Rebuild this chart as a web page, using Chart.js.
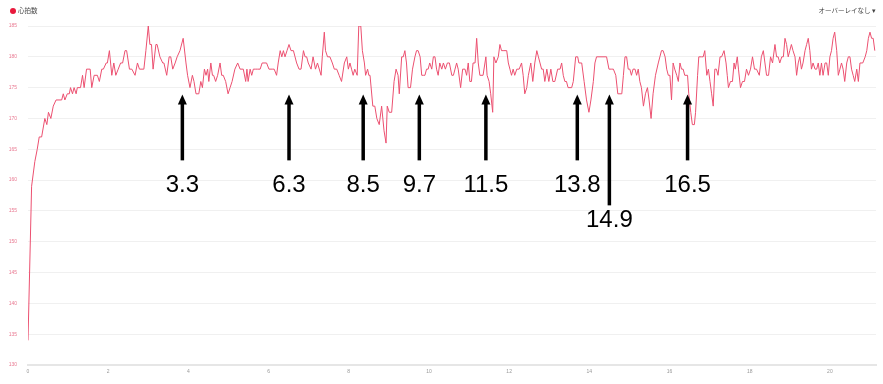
<!DOCTYPE html>
<html>
<head>
<meta charset="utf-8">
<script src="https://cdn.jsdelivr.net/npm/chart.js@4/dist/chart.umd.min.js"></script>
<style>
html,body{margin:0;padding:0;background:#fff;}
canvas{display:block;}
</style>
</head>
<body>
<canvas id="c" width="883" height="384"></canvas>
<script>
// distance (km)
const distanceKm = [
0.00,0.09,0.17,0.23,0.28,0.34,0.42,0.47,0.51,0.57,
0.63,0.70,0.84,0.88,0.92,0.98,1.03,1.06,1.11,1.15,
1.20,1.23,1.31,1.36,1.40,1.46,1.55,1.59,1.65,1.73,
1.78,1.84,1.88,1.95,1.98,2.03,2.09,2.14,2.19,2.25,
2.31,2.36,2.42,2.46,2.53,2.59,2.67,2.73,2.78,2.89,
2.94,3.00,3.04,3.08,3.12,3.19,3.22,3.29,3.36,3.39,
3.46,3.52,3.56,3.61,3.67,3.72,3.79,3.87,3.94,3.98,
4.04,4.10,4.14,4.19,4.26,4.31,4.35,4.40,4.44,4.48,
4.51,4.56,4.60,4.63,4.68,4.73,4.79,4.83,4.87,4.93,
4.99,5.04,5.09,5.16,5.23,5.29,5.37,5.43,5.46,5.49,
5.54,5.58,5.62,5.68,5.73,5.79,5.84,5.95,6.01,6.09,
6.14,6.20,6.24,6.29,6.33,6.37,6.41,6.46,6.51,6.56,
6.62,6.66,6.70,6.76,6.81,6.87,6.91,6.95,6.99,7.06,
7.11,7.17,7.22,7.31,7.34,7.39,7.42,7.47,7.53,7.59,
7.64,7.70,7.76,7.82,7.89,7.95,7.99,8.03,8.07,8.11,
8.15,8.21,8.25,8.30,8.34,8.39,8.42,8.47,8.50,8.53,
8.60,8.65,8.70,8.76,8.82,8.88,8.93,8.96,9.01,9.07,
9.13,9.18,9.23,9.26,9.32,9.36,9.40,9.44,9.48,9.54,
9.59,9.65,9.69,9.73,9.78,9.82,9.86,9.90,9.94,9.98,
10.02,10.07,10.11,10.15,10.19,10.23,10.27,10.32,10.36,10.41,
10.46,10.51,10.57,10.61,10.65,10.69,10.73,10.79,10.84,10.90,
10.94,10.98,11.02,11.06,11.10,11.15,11.19,11.23,11.27,11.35,
11.42,11.45,11.50,11.54,11.59,11.62,11.67,11.73,11.77,11.81,
11.85,11.94,11.98,12.02,12.06,12.10,12.14,12.19,12.25,12.31,
12.35,12.39,12.44,12.48,12.54,12.59,12.64,12.69,12.73,12.77,
12.81,12.85,12.89,12.94,12.99,13.04,13.09,13.14,13.21,13.27,
13.31,13.35,13.39,13.43,13.47,13.56,13.60,13.66,13.71,13.74,
13.81,13.87,13.93,13.99,14.04,14.10,14.14,14.18,14.43,14.49,
14.56,14.60,14.66,14.71,14.81,14.85,14.89,14.93,14.97,15.01,
15.05,15.09,15.14,15.18,15.22,15.26,15.30,15.35,15.40,15.45,
15.49,15.54,15.59,15.65,15.72,15.76,15.80,15.84,15.89,15.93,
15.97,16.01,16.05,16.09,16.13,16.18,16.22,16.26,16.30,16.34,
16.38,16.45,16.48,16.53,16.57,16.62,16.65,16.70,16.73,16.80,
16.84,16.88,16.93,16.97,17.01,17.05,17.09,17.13,17.17,17.21,
17.26,17.30,17.36,17.41,17.44,17.47,17.52,17.57,17.61,17.64,
17.69,17.72,17.77,17.82,17.87,17.92,17.97,18.02,18.07,18.12,
18.17,18.24,18.29,18.34,18.38,18.42,18.47,18.52,18.57,18.63,
18.67,18.71,18.75,18.80,18.84,18.88,18.92,18.96,19.00,19.04,
19.08,19.13,19.17,19.21,19.25,19.29,19.33,19.38,19.42,19.46,
19.50,19.54,19.58,19.63,19.67,19.71,19.75,19.79,19.83,19.88,
19.92,19.96,20.00,20.04,20.08,20.12,20.17,20.21,20.25,20.29,
20.33,20.37,20.42,20.46,20.50,20.54,20.58,20.62,20.67,20.71,
20.75,20.82,20.88,20.92,20.96,21.00,21.04,21.08,21.12
];
// heart rate (bpm)
const heartRate = [
134,159,163,165,167,167,170,169,171,170,
172,173,173,174,173,174,174,175,174,175,
174,175,175,177,175,178,178,175,177,177,
176,178,178,179,179,181,177,179,177,178,
179,179,181,181,178,178,177,179,178,178,
181,185,182,182,178,182,182,180,179,179,
177,180,180,178,179,180,181,183,179,177,
175,177,176,174,174,176,175,178,177,178,
176,179,177,177,176,177,179,177,177,176,
174,175,176,178,179,178,178,176,178,176,
178,177,178,178,178,178,179,179,178,178,
178,177,179,181,180,181,180,181,182,181,
181,180,179,178,178,181,180,180,179,178,
180,178,179,177,180,184,181,180,180,179,
178,178,177,176,179,180,178,179,178,177,
178,177,185,185,181,179,177,178,177,177,
172,172,170,169,172,168,166,172,171,171,
176,178,177,174,180,180,181,179,175,175,
178,180,181,181,180,177,177,177,178,178,
179,178,180,180,178,177,179,178,179,178,
179,179,177,177,178,179,178,175,178,178,
177,179,176,176,179,179,183,179,177,177,
180,177,176,174,171,180,179,180,182,181,
181,181,179,178,177,178,177,178,178,179,
177,174,175,177,179,176,179,181,180,179,
178,178,176,178,176,178,176,176,178,178,
179,177,176,176,175,175,176,180,180,179,
179,176,173,171,173,176,179,180,180,178,
178,178,177,174,174,177,180,180,178,178,
177,178,178,177,178,176,175,172,174,175,
173,170,174,177,179,180,181,181,180,178,
177,177,173,179,178,177,176,179,178,178,
177,177,174,171,169,169,171,177,180,180,
180,181,177,178,176,174,172,178,178,177,
180,180,181,179,177,175,176,176,179,178,
180,178,175,176,176,178,177,178,180,178,
178,177,180,181,179,177,177,180,179,182,
180,180,179,180,180,183,182,180,181,182,
181,180,177,179,180,178,179,181,182,183,
181,178,179,178,178,179,177,179,177,179,
179,177,180,181,183,184,181,177,178,179,
178,176,179,180,180,178,177,176,178,176,
179,179,180,181,183,184,183,183,181
];
const xTicks = [0,2,4,6,8,10,12,14,16,18,20];
const yTicks = [130,135,140,145,150,155,160,165,170,175,180,185];
const seriesName = '心拍数';
const overlayLabel = 'オーバーレイなし ▾';
// annotation markers (arrows)
const markerKm = [3.85, 6.51, 8.36, 9.76, 11.42, 13.70, 14.50, 16.45];
const markerLabels = ['3.3','6.3','8.5','9.7','11.5','13.8','14.9','16.5'];
const markerLong = [false,false,false,false,false,false,true,false];

const points = distanceKm.map((d,i)=>({x:d,y:heartRate[i]}));

const overlayPlugin = {
  id:'overlay',
  afterDraw(chart){
    const ctx = chart.ctx;
    const xs = chart.scales.x, ys = chart.scales.y;
    ctx.save();
    // legend
    ctx.fillStyle = '#e8193c';
    ctx.beginPath(); ctx.arc(13, 11, 3, 0, Math.PI*2); ctx.fill();
    ctx.fillStyle = '#444';
    ctx.font = '6.5px "Noto Sans CJK JP", sans-serif';
    ctx.textBaseline = 'middle';
    ctx.textAlign = 'left';
    ctx.fillText(seriesName, 18, 11);
    ctx.textAlign = 'right';
    ctx.fillText(overlayLabel, 876, 11);
    // arrows
    ctx.fillStyle = '#000';
    ctx.strokeStyle = '#000';
    ctx.font = '24px "Liberation Sans", Arial, sans-serif';
    ctx.textAlign = 'center';
    markerKm.forEach((km,i)=>{
      const px = xs.getPixelForValue(km);
      const tip = ys.getPixelForValue(173.9);
      const bottom = ys.getPixelForValue(markerLong[i] ? 155.9 : 163.2);
      const labelY = ys.getPixelForValue(markerLong[i] ? 153.5 : 159.1);
      ctx.beginPath();
      ctx.moveTo(px, tip);
      ctx.lineTo(px-4.5, tip+10);
      ctx.lineTo(px+4.5, tip+10);
      ctx.closePath();
      ctx.fill();
      ctx.fillRect(px-1.75, tip+9, 3.5, bottom-tip-9);
      ctx.fillText(markerLabels[i], px, labelY);
    });
    ctx.restore();
  }
};

new Chart(document.getElementById('c'), {
  type:'line',
  data:{datasets:[{
    label:seriesName,
    data:points,
    borderColor:'rgb(236,80,112)',
    borderWidth:1,
    pointRadius:0,
    tension:0,
    fill:false
  }]},
  options:{
    responsive:false,
    animation:false,
    layout:{padding:{top:26,right:7,left:0,bottom:0}},
    plugins:{legend:{display:false},tooltip:{enabled:false}},
    scales:{
      x:{
        type:'linear', min:0, max:21.15,
        afterFit(s){ s.height = 19; },
        afterBuildTicks(s){ s.ticks = xTicks.map(v=>({value:v})); },
        grid:{display:false, drawTicks:false},
        border:{display:true, color:'#e6e6e6', width:2},
        ticks:{color:'#999', font:{size:5, family:'Arial'}, padding:4, maxRotation:0, autoSkip:false, includeBounds:false}
      },
      y:{
        min:130, max:185,
        afterFit(s){ s.width = 28; },
        afterBuildTicks(s){ s.ticks = yTicks.map(v=>({value:v})); },
        grid:{color:'#f0f0f0', drawTicks:false},
        border:{display:false},
        ticks:{color:'#e97a92', font:{size:5, family:'Arial'}, padding:11}
      }
    }
  },
  plugins:[overlayPlugin]
});
</script>
</body>
</html>
